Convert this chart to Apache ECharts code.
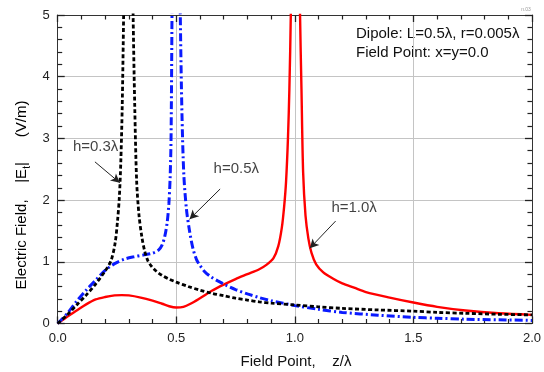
<!DOCTYPE html>
<html>
<head>
<meta charset="utf-8">
<script src="https://cdn.jsdelivr.net/npm/echarts@6/dist/echarts.min.js"></script>
<style>
  html, body { margin: 0; padding: 0; background: #fff; }
  #chart { width: 544px; height: 372px; }
</style>
</head>
<body>
<div id="chart"></div>
<script>
// |E_t| along z/λ. Each curve runs off the top of the
// plot near its singularity, '-' breaks the line there.
const h03 = [
  [0, 0], [0.04, 0.14], [0.08, 0.3], [0.12, 0.46], [0.16, 0.64], [0.2, 0.85],
  [0.225, 1.02], [0.242, 1.3], [0.252, 1.65], [0.26, 2.05], [0.266, 2.6], [0.272, 3.5], [0.278, 5.0],
  [0.281, 6.0], [0.298, '-'], [0.315, 6.0],
  [0.318, 5.0], [0.325, 3.5], [0.333, 2.3], [0.343, 1.75], [0.355, 1.4], [0.367, 1.17],
  [0.38, 1.02], [0.395, 0.93], [0.415, 0.85], [0.44, 0.78], [0.47, 0.72], [0.5, 0.67],
  [0.55, 0.6], [0.6, 0.54], [0.65, 0.49], [0.7, 0.45], [0.75, 0.41], [0.8, 0.38],
  [0.85, 0.35], [0.9, 0.33], [1.0, 0.3], [1.1, 0.27], [1.2, 0.245], [1.35, 0.22],
  [1.5, 0.2], [1.6, 0.18], [1.72, 0.165], [1.86, 0.15], [2.0, 0.14]
]

const h05 = [
  [0, 0], [0.04, 0.16], [0.08, 0.36], [0.12, 0.54], [0.16, 0.7], [0.2, 0.86],
  [0.24, 0.97], [0.28, 1.04], [0.32, 1.08], [0.36, 1.11], [0.4, 1.14], [0.425, 1.19],
  [0.44, 1.27], [0.452, 1.42], [0.462, 1.65], [0.469, 1.95], [0.474, 2.35], [0.478, 3.0], [0.482, 5.0],
  [0.484, 6.0], [0.5, '-'], [0.515, 6.0],
  [0.517, 5.0], [0.524, 3.4], [0.532, 2.4], [0.543, 1.85], [0.556, 1.5], [0.57, 1.22],
  [0.585, 1.04], [0.6, 0.94], [0.62, 0.84], [0.645, 0.76], [0.675, 0.69], [0.71, 0.62],
  [0.75, 0.55], [0.8, 0.48], [0.85, 0.42], [0.9, 0.37], [0.95, 0.33], [1.0, 0.29],
  [1.1, 0.23], [1.2, 0.18], [1.35, 0.135], [1.5, 0.1], [1.6, 0.085], [1.72, 0.07],
  [1.86, 0.06], [2.0, 0.05]
]

const h10 = [
  [0, 0], [0.04, 0.11], [0.08, 0.21], [0.12, 0.31], [0.16, 0.39], [0.2, 0.43],
  [0.24, 0.455], [0.27, 0.46], [0.3, 0.455], [0.35, 0.42], [0.4, 0.37], [0.44, 0.32],
  [0.47, 0.28], [0.5, 0.26], [0.53, 0.27], [0.56, 0.32], [0.6, 0.41], [0.65, 0.53],
  [0.7, 0.63], [0.75, 0.72], [0.8, 0.8], [0.85, 0.88], [0.88, 0.95], [0.91, 1.06],
  [0.93, 1.25], [0.945, 1.55], [0.955, 1.9], [0.963, 2.3], [0.971, 3.0], [0.977, 3.8],
  [0.983, 5.0],
  [0.985, 6.0], [1.0, '-'], [1.02, 6.0],
  [1.022, 5.0], [1.028, 3.8], [1.035, 2.45], [1.045, 1.75], [1.057, 1.38], [1.07, 1.15],
  [1.09, 0.96], [1.12, 0.83], [1.16, 0.73], [1.2, 0.65], [1.25, 0.58], [1.3, 0.51],
  [1.4, 0.42], [1.5, 0.34], [1.6, 0.27], [1.72, 0.21], [1.86, 0.165], [2.0, 0.14]
]

// curve labels: text position and arrow [from, to] in data units
const labels = [
  { text: 'h=0.3\u03bb', at: [0.16, 2.87], arrow: [[0.157, 2.62], [0.262, 2.28]] },
  { text: 'h=0.5\u03bb', at: [0.753, 2.5], arrow: [[0.685, 2.18], [0.556, 1.69]] },
  { text: 'h=1.0\u03bb', at: [1.25, 1.88], arrow: [[1.172, 1.66], [1.063, 1.22]] }
]

const FONT = '"Liberation Sans", Arial, sans-serif'
const chart = echarts.init(document.getElementById('chart'))

// 四边都画带内刻度的边框轴，只有下/左轴带标签和网格线
function frameAxis(dim, position, max, interval, labelled) {
  return {
    type: 'value',
    position,
    min: 0,
    max,
    interval,
    axisLine: { show: true, onZero: false, lineStyle: { color: '#333', width: 1 } },
    axisTick: { show: true, inside: true, length: 7, lineStyle: { color: '#222', width: 1.3 } },
    minorTick: { show: true, splitNumber: 5, length: 4.5, lineStyle: { color: '#222', width: 1.2 } },
    axisLabel: labelled
      ? {
          show: true, fontFamily: FONT, fontSize: 13, color: '#222', margin: 8,
          formatter: dim === 'x' ? (v) => v.toFixed(1) : (v) => String(v),
        }
      : { show: false },
    splitLine: { show: labelled, lineStyle: { color: '#c4c4c4', width: 1 } },
    minorSplitLine: { show: false },
  }
}

function lineSeries(name, data, color, width, type) {
  return {
    name,
    type: 'line',
    data,
    symbol: 'none',
    smooth: 0.3,
    connectNulls: false,
    clip: true,
    lineStyle: { color, width, type },
    z: 3,
  }
}

const annot = {
  name: 'labels',
  type: 'scatter',
  data: labels.map((l) => ({ value: l.at, label: { formatter: l.text } })),
  symbolSize: 0,
  silent: true,
  label: {
    show: true,
    position: 'inside',
    fontFamily: FONT,
    fontSize: 15,
    color: '#111',
  },
  markLine: {
    silent: true,
    symbol: ['none', 'arrow'],
    symbolSize: [7, 9],
    label: { show: false },
    lineStyle: { color: '#222', width: 1, type: 'solid' },
    data: labels.map((l) => [{ coord: l.arrow[0] }, { coord: l.arrow[1] }]),
  },
  z: 5,
}

chart.setOption({
  animation: false,
  grid: { left: 57.7, right: 10.3, top: 15, bottom: 48.5 },
  textStyle: { fontFamily: FONT },
  xAxis: [
    frameAxis('x', 'bottom', 2, 0.5, true),
    frameAxis('x', 'top', 2, 0.5, false),
  ],
  yAxis: [
    frameAxis('y', 'left', 5, 1, true),
    frameAxis('y', 'right', 5, 1, false),
  ],
  series: [
    lineSeries('h=1.0', h10, '#ff0000', 2.4, 'solid'),
    lineSeries('h=0.5', h05, '#0a1aff', 3, [8, 3, 2, 3]),
    lineSeries('h=0.3', h03, '#000000', 2.8, [4, 2.5]),
    annot,
  ],
  graphic: [
    {
      type: 'text',
      left: 356,
      top: 25,
      style: {
        text: 'Dipole: L=0.5\u03bb, r=0.005\u03bb\nField Point: x=y=0.0',
        font: '15px ' + FONT,
        fill: '#111',
        lineHeight: 18.5,
      },
    },
    {
      type: 'text',
      x: 296,
      y: 362,
      style: {
        text: 'Field Point,    z/\u03bb',
        font: '15px ' + FONT,
        fill: '#111',
        align: 'center',
        verticalAlign: 'middle',
      },
    },
    {
      type: 'text',
      x: 22,
      y: 195,
      rotation: Math.PI / 2,
      style: {
        text: '{a|Electric Field,    |E}{s|t}{a||      (V/m)}',
        align: 'center',
        verticalAlign: 'middle',
        rich: {
          a: { fontFamily: FONT, fontSize: 15, color: '#111', lineHeight: 20 },
          s: { fontFamily: FONT, fontSize: 10, color: '#111', lineHeight: 10, verticalAlign: 'bottom' },
        },
      },
    },
    {
      type: 'text',
      x: 526,
      y: 7,
      style: { text: 'n.03', font: '5px ' + FONT, fill: '#999', align: 'center' },
    },
  ],
})
</script>
</body>
</html>
